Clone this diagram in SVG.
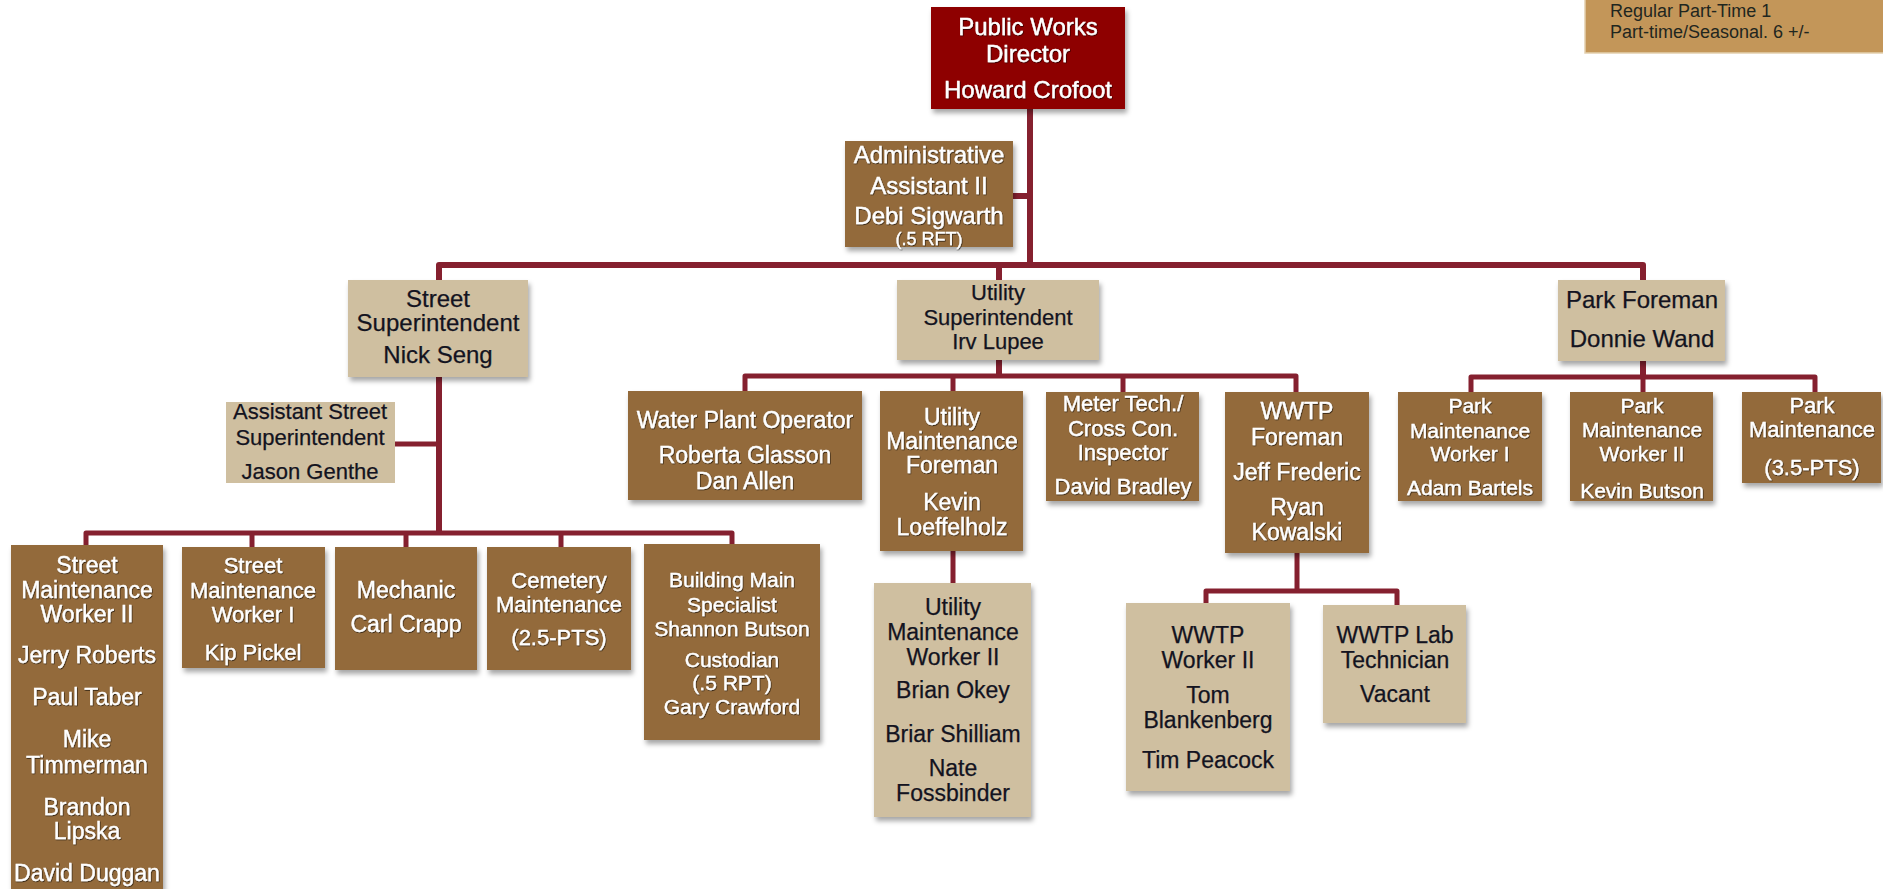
<svg xmlns="http://www.w3.org/2000/svg" width="1883" height="889" viewBox="0 0 1883 889">
<defs>
<filter id="sh" x="-10%" y="-10%" width="125%" height="130%">
<feDropShadow dx="2" dy="4" stdDeviation="2.5" flood-color="#000" flood-opacity="0.35"/>
</filter>
<filter id="gl" x="-5%" y="-20%" width="110%" height="140%">
<feDropShadow dx="0.6" dy="0.8" stdDeviation="0.7" flood-color="#000" flood-opacity="0.75"/>
</filter>
</defs>
<style>
text{font-family:"Liberation Sans",Arial,sans-serif;text-anchor:middle}
.br rect{fill:#936B3B;filter:url(#sh)}
.tn rect{fill:#CFBFA0;filter:url(#sh)}
.dr rect{fill:#8E0000;filter:url(#sh)}
.br text,.dr text{fill:#fff;stroke:#fff;stroke-width:0.35;filter:url(#gl)}
.tn text{fill:#131320;stroke:#131320;stroke-width:0.25}
.f24 text{font-size:24px}
.f23 text{font-size:23px}
.f22 text{font-size:22px}
.f21 text{font-size:21px}
#connectors path{fill:none;stroke:#85202F;stroke-width:6;stroke-linejoin:round}
#connectors .s{stroke-width:5}
</style>
<rect width="1883" height="889" fill="#fff"/>

<g id="connectors">
<path d="M1030,109 V265"/>
<path d="M1013,196 H1030"/>
<path d="M439,280 V265 H1643 V280"/>
<path d="M999,265 V280"/>
<path d="M439,377 V533"/>
<path class="s" d="M395,444 H439"/>
<path class="s" d="M86,545 V533 H732 V544"/>
<path class="s" d="M252,533 V547"/>
<path class="s" d="M406,533 V547"/>
<path class="s" d="M561,533 V547"/>
<path d="M999,360 V376"/>
<path class="s" d="M745,391 V376 H1296 V392"/>
<path class="s" d="M953,376 V391"/>
<path class="s" d="M1123,376 V392"/>
<path class="s" d="M953,551 V583"/>
<path class="s" d="M1297,553 V591"/>
<path class="s" d="M1206,603 V591 H1397 V605"/>
<path d="M1643,361 V377"/>
<path class="s" d="M1471,392 V377 H1815 V392"/>
<path class="s" d="M1643,377 V392"/>
</g>

<g id="legend">
<rect x="1585" y="-2" width="300" height="55" fill="#C39659" stroke="#E3D0AE" stroke-width="1.5"/>
<text x="1610" y="16.5" style="font-size:18px;text-anchor:start;fill:#1f261f">Regular Part-Time 1</text>
<text x="1610" y="37.5" style="font-size:18px;text-anchor:start;fill:#1f261f">Part-time/Seasonal. 6 +/-</text>
</g>

<g id="director" class="dr f24">
<rect x="931" y="7" width="194" height="102"/>
<text x="1028" y="35">Public Works</text>
<text x="1028" y="62">Director</text>
<text x="1028" y="98">Howard Crofoot</text>
</g>

<g id="admin" class="br f24">
<rect x="845" y="141" width="168" height="106"/>
<text x="929" y="163">Administrative</text>
<text x="929" y="194">Assistant II</text>
<text x="929" y="224">Debi Sigwarth</text>
<text x="929" y="245" style="font-size:18px">(.5 RFT)</text>
</g>

<g id="street-super" class="tn f24">
<rect x="348" y="280" width="180" height="97"/>
<text x="438" y="307">Street</text>
<text x="438" y="331">Superintendent</text>
<text x="438" y="363">Nick Seng</text>
</g>

<g id="utility-super" class="tn f22">
<rect x="897" y="280" width="202" height="80"/>
<text x="998" y="300">Utility</text>
<text x="998" y="324.5">Superintendent</text>
<text x="998" y="349">Irv Lupee</text>
</g>

<g id="park-foreman" class="tn f24">
<rect x="1558" y="280" width="167" height="81"/>
<text x="1642" y="308">Park Foreman</text>
<text x="1642" y="347">Donnie Wand</text>
</g>

<g id="asst-street" class="tn f22">
<rect x="226" y="402" width="169" height="81" style="filter:none"/>
<text x="310" y="419">Assistant Street</text>
<text x="310" y="445">Superintendent</text>
<text x="310" y="479">Jason Genthe</text>
</g>

<g id="smw2" class="br f23">
<rect x="11" y="545" width="152" height="360"/>
<text x="87" y="573">Street</text>
<text x="87" y="598">Maintenance</text>
<text x="87" y="622">Worker II</text>
<text x="87" y="663">Jerry Roberts</text>
<text x="87" y="705">Paul Taber</text>
<text x="87" y="747">Mike</text>
<text x="87" y="773">Timmerman</text>
<text x="87" y="815">Brandon</text>
<text x="87" y="839">Lipska</text>
<text x="87" y="881">David Duggan</text>
</g>

<g id="smw1" class="br f22">
<rect x="182" y="547" width="143" height="121"/>
<text x="253" y="573">Street</text>
<text x="253" y="598">Maintenance</text>
<text x="253" y="622">Worker I</text>
<text x="253" y="660">Kip Pickel</text>
</g>

<g id="mechanic" class="br f23">
<rect x="335" y="547" width="142" height="123"/>
<text x="406" y="598">Mechanic</text>
<text x="406" y="632">Carl Crapp</text>
</g>

<g id="cemetery" class="br f22">
<rect x="487" y="547" width="144" height="123"/>
<text x="559" y="588">Cemetery</text>
<text x="559" y="612">Maintenance</text>
<text x="559" y="645">(2.5-PTS)</text>
</g>

<g id="building" class="br f21">
<rect x="644" y="544" width="176" height="196"/>
<text x="732" y="587">Building Main</text>
<text x="732" y="612">Specialist</text>
<text x="732" y="636">Shannon Butson</text>
<text x="732" y="667">Custodian</text>
<text x="732" y="690">(.5 RPT)</text>
<text x="732" y="714">Gary Crawford</text>
</g>

<g id="water-plant" class="br f23">
<rect x="628" y="391" width="234" height="109"/>
<text x="745" y="428">Water Plant Operator</text>
<text x="745" y="463">Roberta Glasson</text>
<text x="745" y="489">Dan Allen</text>
</g>

<g id="util-foreman" class="br f23">
<rect x="880" y="391" width="143" height="160"/>
<text x="952" y="425">Utility</text>
<text x="952" y="449">Maintenance</text>
<text x="952" y="473">Foreman</text>
<text x="952" y="510">Kevin</text>
<text x="952" y="535">Loeffelholz</text>
</g>

<g id="meter" class="br f22">
<rect x="1046" y="392" width="153" height="109"/>
<text x="1123" y="411">Meter Tech./</text>
<text x="1123" y="435.5">Cross Con.</text>
<text x="1123" y="460">Inspector</text>
<text x="1123" y="494">David Bradley</text>
</g>

<g id="wwtp-foreman" class="br f23">
<rect x="1225" y="392" width="144" height="161"/>
<text x="1297" y="419">WWTP</text>
<text x="1297" y="445">Foreman</text>
<text x="1297" y="480">Jeff Frederic</text>
<text x="1297" y="515">Ryan</text>
<text x="1297" y="540">Kowalski</text>
</g>

<g id="umw2" class="tn f23">
<rect x="874" y="583" width="157" height="234"/>
<text x="953" y="615">Utility</text>
<text x="953" y="640">Maintenance</text>
<text x="953" y="665">Worker II</text>
<text x="953" y="698">Brian Okey</text>
<text x="953" y="742">Briar Shilliam</text>
<text x="953" y="776">Nate</text>
<text x="953" y="801">Fossbinder</text>
</g>

<g id="wwtp-worker" class="tn f23">
<rect x="1126" y="603" width="164" height="188"/>
<text x="1208" y="643">WWTP</text>
<text x="1208" y="668">Worker II</text>
<text x="1208" y="703">Tom</text>
<text x="1208" y="728">Blankenberg</text>
<text x="1208" y="768">Tim Peacock</text>
</g>

<g id="wwtp-lab" class="tn f23">
<rect x="1323" y="605" width="143" height="118"/>
<text x="1395" y="643">WWTP Lab</text>
<text x="1395" y="668">Technician</text>
<text x="1395" y="702">Vacant</text>
</g>

<g id="park-mw1" class="br f21">
<rect x="1398" y="392" width="144" height="109"/>
<text x="1470" y="413">Park</text>
<text x="1470" y="438">Maintenance</text>
<text x="1470" y="461">Worker I</text>
<text x="1470" y="495">Adam Bartels</text>
</g>

<g id="park-mw2" class="br f21">
<rect x="1570" y="392" width="143" height="109"/>
<text x="1642" y="413">Park</text>
<text x="1642" y="437">Maintenance</text>
<text x="1642" y="461">Worker II</text>
<text x="1642" y="498">Kevin Butson</text>
</g>

<g id="park-maint" class="br f22">
<rect x="1742" y="392" width="139" height="91"/>
<text x="1812" y="413">Park</text>
<text x="1812" y="437">Maintenance</text>
<text x="1812" y="475">(3.5-PTS)</text>
</g>
</svg>
